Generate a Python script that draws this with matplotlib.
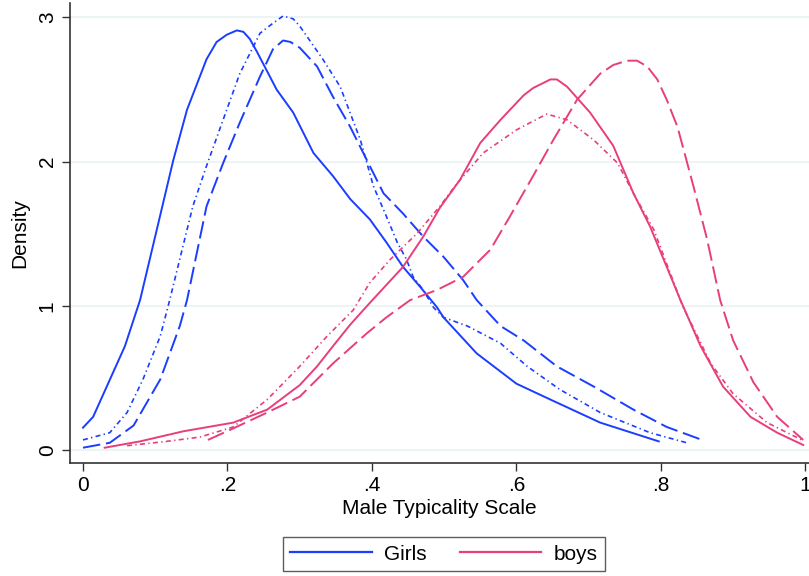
import matplotlib.pyplot as plt
from matplotlib.lines import Line2D

plt.rcParams['font.family'] = ['Liberation Sans', 'DejaVu Sans']

blue = '#1a3dff'
pink = '#e83e7c'

# girls
g_solid_x = [0.0, 0.014, 0.058, 0.079, 0.125, 0.144, 0.171, 0.185, 0.199, 0.213, 0.222, 0.231, 0.241,
             0.268, 0.291, 0.319, 0.346, 0.37, 0.397, 0.42, 0.443, 0.467, 0.49, 0.499, 0.545, 0.60,
             0.647, 0.716, 0.797]
g_solid_y = [0.155, 0.23, 0.72, 1.04, 2.01, 2.36, 2.71, 2.83, 2.88, 2.91, 2.90, 2.85, 2.76,
             2.5, 2.34, 2.06, 1.90, 1.74, 1.60, 1.44, 1.27, 1.13, 0.99, 0.92, 0.67, 0.46,
             0.35, 0.19, 0.06]
g_dash_x = [0.0, 0.037, 0.07, 0.107, 0.134, 0.144, 0.171, 0.194, 0.217, 0.245, 0.263, 0.277, 0.287,
            0.30, 0.324, 0.346, 0.37, 0.393, 0.416, 0.443, 0.471, 0.499, 0.526, 0.545, 0.578, 0.61,
            0.656, 0.707, 0.762, 0.808, 0.857]
g_dash_y = [0.016, 0.05, 0.17, 0.49, 0.86, 1.04, 1.69, 1.99, 2.27, 2.59, 2.78, 2.84, 2.83,
            2.79, 2.66, 2.45, 2.24, 2.01, 1.78, 1.64, 1.48, 1.34, 1.18, 1.04, 0.86, 0.76,
            0.58, 0.44, 0.28, 0.16, 0.07]
g_dd_x = [0.0, 0.037, 0.061, 0.083, 0.107, 0.12, 0.152, 0.171, 0.199, 0.217, 0.245, 0.263, 0.277,
          0.291, 0.30, 0.332, 0.356, 0.384, 0.402, 0.42, 0.435, 0.448, 0.457, 0.471, 0.485, 0.499,
          0.532, 0.578, 0.615, 0.66, 0.716, 0.785, 0.836]
g_dd_y = [0.07, 0.12, 0.26, 0.49, 0.79, 1.04, 1.69, 1.97, 2.36, 2.61, 2.89, 2.96, 3.01,
          2.99, 2.94, 2.71, 2.52, 2.15, 1.83, 1.62, 1.44, 1.32, 1.20, 1.11, 0.99, 0.92,
          0.86, 0.74, 0.58, 0.42, 0.26, 0.12, 0.05]

# boys
b_solid_x = [0.03, 0.079, 0.139, 0.208, 0.255, 0.30, 0.324, 0.346, 0.37, 0.397, 0.443, 0.471, 0.494,
             0.522, 0.55, 0.578, 0.61, 0.623, 0.647, 0.656, 0.67, 0.702, 0.734, 0.762, 0.785, 0.827,
             0.855, 0.886, 0.924, 0.961, 0.997]
b_solid_y = [0.016, 0.06, 0.13, 0.19, 0.28, 0.45, 0.58, 0.72, 0.87, 1.02, 1.27, 1.48, 1.68,
             1.875, 2.13, 2.29, 2.46, 2.51, 2.57, 2.57, 2.52, 2.34, 2.11, 1.78, 1.55, 1.04,
             0.72, 0.44, 0.23, 0.12, 0.035]
b_dash_x = [0.173, 0.208, 0.255, 0.30, 0.346, 0.393, 0.42, 0.453, 0.49, 0.526, 0.564, 0.591, 0.623,
            0.651, 0.684, 0.716, 0.734, 0.753, 0.767, 0.781, 0.795, 0.808, 0.823, 0.845, 0.864, 0.882,
            0.90, 0.928, 0.961, 0.997]
b_dash_y = [0.07, 0.15, 0.26, 0.37, 0.6, 0.81, 0.92, 1.04, 1.11, 1.20, 1.39, 1.62, 1.90,
            2.15, 2.43, 2.61, 2.67, 2.70, 2.70, 2.66, 2.57, 2.43, 2.24, 1.83, 1.46, 1.04,
            0.76, 0.47, 0.23, 0.07]
b_dd_x = [0.061, 0.116, 0.162, 0.208, 0.255, 0.30, 0.338, 0.374, 0.397, 0.425, 0.462, 0.494, 0.518,
          0.554, 0.60, 0.642, 0.67, 0.707, 0.74, 0.762, 0.79, 0.83, 0.869, 0.9, 0.947, 0.997]
b_dd_y = [0.03, 0.06, 0.09, 0.16, 0.35, 0.58, 0.79, 0.97, 1.16, 1.32, 1.50, 1.69, 1.85,
          2.06, 2.22, 2.33, 2.29, 2.15, 1.99, 1.78, 1.53, 1.0, 0.6, 0.39, 0.19, 0.065]

xticks = [0, 0.2, 0.4, 0.6, 0.8, 1]
xticklabels = ['0', '.2', '.4', '.6', '.8', '1']
yticks = [0, 1, 2, 3]

fig = plt.figure(figsize=(8.09, 5.76), dpi=100)
ax = fig.add_axes([70 / 809, 113 / 576, 739 / 809, 460 / 576])

long_dash = (0, (9, 3))
dash_dot = (0, (3, 2, 0.8, 2))

kw = dict(solid_joinstyle='round', dash_joinstyle='round')
ax.plot(g_solid_x, g_solid_y, color=blue, lw=1.4, **kw)
ax.plot(g_dash_x, g_dash_y, color=blue, lw=1.4, linestyle=long_dash, **kw)
ax.plot(g_dd_x, g_dd_y, color=blue, lw=1.2, linestyle=dash_dot, **kw)
ax.plot(b_solid_x, b_solid_y, color=pink, lw=1.4, **kw)
ax.plot(b_dash_x, b_dash_y, color=pink, lw=1.4, linestyle=long_dash, **kw)
ax.plot(b_dd_x, b_dd_y, color=pink, lw=1.2, linestyle=dash_dot, **kw)

ax.set_xlim(-0.018, 1.005)
ax.set_ylim(-0.09, 3.10)
ax.set_xticks(xticks)
ax.set_xticklabels(xticklabels)
ax.set_yticks(yticks)
ax.set_yticklabels([str(t) for t in yticks], rotation=90, va='center')
ax.tick_params(labelsize=15, length=6, color='#333333', width=1)
ax.grid(axis='y', color='#eaf2f3', lw=1.2)
ax.set_axisbelow(True)
for s in ['top', 'right']:
    ax.spines[s].set_visible(False)
for s in ['left', 'bottom']:
    ax.spines[s].set_color('#333333')
    ax.spines[s].set_linewidth(1.2)

ax.set_xlabel('Male Typicality Scale', fontsize=15, labelpad=3)
ax.set_ylabel('Density', fontsize=15, labelpad=6)

handles = [Line2D([], [], color=blue, lw=1.6), Line2D([], [], color=pink, lw=1.6)]
leg = fig.legend(handles, ['Girls', 'boys'], loc='center', bbox_to_anchor=(444 / 809, 22 / 576),
                 ncol=2, fontsize=15, frameon=True, fancybox=False, handlelength=3.9,
                 handletextpad=0.6, columnspacing=1.6, borderpad=0.35, edgecolor='#333333')
leg.get_frame().set_linewidth(1.0)

fig.savefig('out.png', dpi=100)
